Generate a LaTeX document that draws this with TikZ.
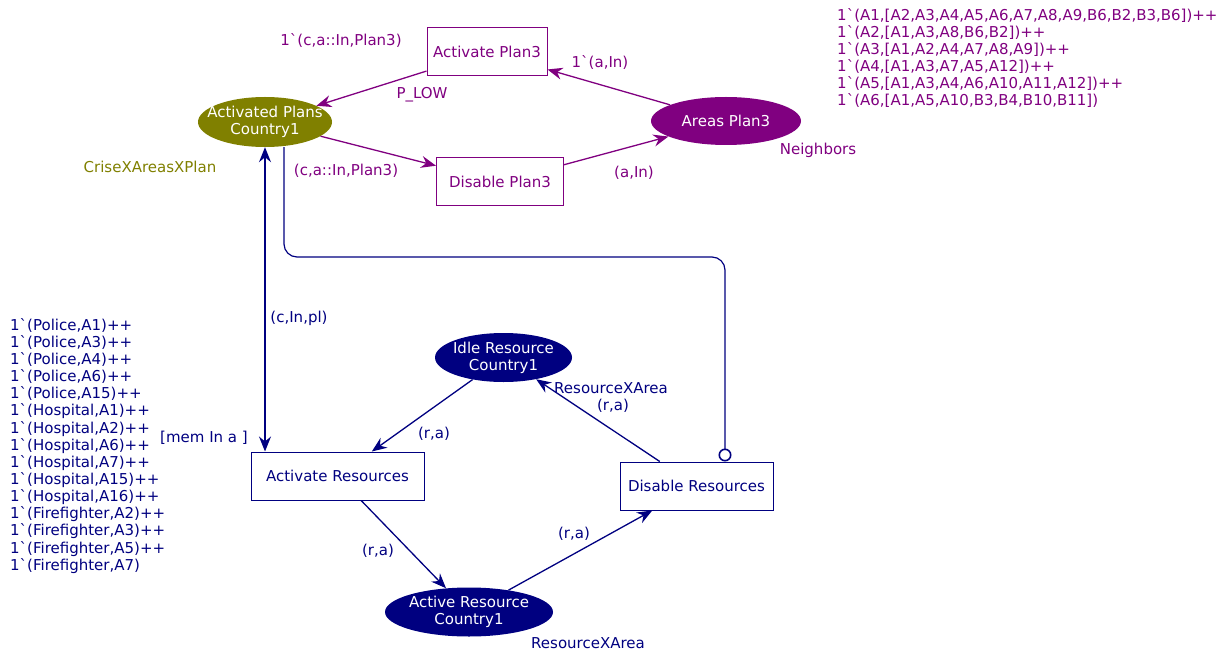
\documentclass[tikz,border=0pt]{standalone}
\usepackage{fontspec}
\setmainfont{DejaVu Sans}[Ligatures=TeXOff]
\usetikzlibrary{arrows.meta,shapes.geometric}
\definecolor{cpnnavy}{RGB}{0,0,128}
\definecolor{cpnpurple}{RGB}{128,0,128}
\definecolor{cpnolive}{RGB}{128,128,0}
\begin{document}
\begin{tikzpicture}[x=1pt,y=-1pt,
  every node/.style={font=\fontsize{15}{17.14}\selectfont, inner sep=0pt},
  trans/.style={draw, rectangle, line width=1pt, fill=white, minimum height=48pt},
  place/.style={ellipse, draw=none, text=white, align=center},
  plabel/.style={text=white, align=center},
  tip/.style={},
  arc/.style={line width=1.3pt, -{Stealth[length=15pt,width=12pt,inset=5pt]}},
  barc/.style={line width=1.3pt, {Stealth[length=15pt,width=12pt,inset=5pt]}-{Stealth[length=15pt,width=12pt,inset=5pt]}}
]
\useasboundingbox (0,0) rectangle (1222,652);

% nodes
\node[trans, draw=cpnpurple, text=cpnpurple, minimum width=120pt] (apl3) at (487,52) {Activate Plan3};
\node[trans, draw=cpnpurple, text=cpnpurple, minimum width=127pt] (dpl3) at (500,182) {Disable Plan3};
\node[place, fill=cpnolive, minimum width=134pt, minimum height=50pt,
  label={[plabel]center:Activated Plans\\Country1}] (actp) at (265,122) {};
\node[place, fill=cpnpurple, minimum width=150pt, minimum height=48pt] (areas) at (726,121) {Areas Plan3};
\node[trans, draw=cpnnavy, text=cpnnavy, minimum width=173pt] (actres) at (337.5,476) {Activate Resources};
\node[trans, draw=cpnnavy, text=cpnnavy, minimum width=153pt] (disres) at (696.5,486) {Disable Resources};
\node[place, fill=cpnnavy, minimum width=137pt, minimum height=49pt,
  label={[plabel]center:Idle Resource\\Country1}] (idle) at (503.5,357.5) {};
\node[place, fill=cpnnavy, minimum width=168pt, minimum height=49pt,
  label={[plabel]center:Active Resource\\Country1}] (active) at (469,612) {};

% arcs
\draw[arc, cpnpurple] (apl3) -- (actp);
\draw[arc, cpnpurple] (actp) -- (dpl3);
\draw[arc, cpnpurple] (dpl3) -- (areas);
\draw[arc, cpnpurple] (areas) -- (apl3);
\draw[barc, cpnnavy] (actp.south) -- (actp.south |- actres.north);
\coordinate (bend) at (725,257);
\draw[cpnnavy, line width=1.2pt, rounded corners=13pt, -{Circle[open,length=13pt,line width=1.6pt]}]
  ([xshift=19pt]actp.south) |- (bend) -- ([xshift=28.5pt]disres.north);
\draw[arc, cpnnavy] (idle) -- (actres);
\draw[arc, cpnnavy] (disres) -- (idle);
\draw[arc, cpnnavy] (actres) -- (active);
\draw[arc, cpnnavy] (active) -- (disres);

% labels
\node[text=cpnpurple] (la1) at (341,40) {1`(c,a::In,Plan3)};
\node[text=cpnpurple] (la2) at (422,95) {P\_LOW};
\node[text=cpnpurple] (la3) at (600,62) {1`(a,In)};
\node[text=cpnpurple] (la4) at (346,171) {(c,a::In,Plan3)};
\node[text=cpnpurple] (la5) at (634,173) {(a,In)};
\node[text=cpnolive] (la6) at (150,167) {CriseXAreasXPlan};
\node[text=cpnpurple] (la7) at (818,150) {Neighbors};
\node[text=cpnpurple, align=left, anchor=north west] (mk1) at (837,8)
  {1`(A1,[A2,A3,A4,A5,A6,A7,A8,A9,B6,B2,B3,B6])++\\
   1`(A2,[A1,A3,A8,B6,B2])++\\
   1`(A3,[A1,A2,A4,A7,A8,A9])++\\
   1`(A4,[A1,A3,A7,A5,A12])++\\
   1`(A5,[A1,A3,A4,A6,A10,A11,A12])++\\
   1`(A6,[A1,A5,A10,B3,B4,B10,B11])};
\node[text=cpnnavy] (lb1) at (299,318) {(c,In,pl)};
\node[text=cpnnavy] (lb2) at (204,438) {[mem In a ]};
\node[text=cpnnavy, align=left, anchor=north west] (mk2) at (10,318)
  {1`(Police,A1)++\\
   1`(Police,A3)++\\
   1`(Police,A4)++\\
   1`(Police,A6)++\\
   1`(Police,A15)++\\
   1`(Hospital,A1)++\\
   1`(Hospital,A2)++\\
   1`(Hospital,A6)++\\
   1`(Hospital,A7)++\\
   1`(Hospital,A15)++\\
   1`(Hospital,A16)++\\
   1`(Firefighter,A2)++\\
   1`(Firefighter,A3)++\\
   1`(Firefighter,A5)++\\
   1`(Firefighter,A7)};
\node[text=cpnnavy] (lb3) at (611,388) {ResourceXArea};
\node[text=cpnnavy] (lb4) at (613,406) {(r,a)};
\node[text=cpnnavy] (lb5) at (434,434) {(r,a)};
\node[text=cpnnavy] (lb6) at (378,551) {(r,a)};
\node[text=cpnnavy] (lb7) at (574,534) {(r,a)};
\node[text=cpnnavy] (lb8) at (588,643) {ResourceXArea};
\end{tikzpicture}
\end{document}
